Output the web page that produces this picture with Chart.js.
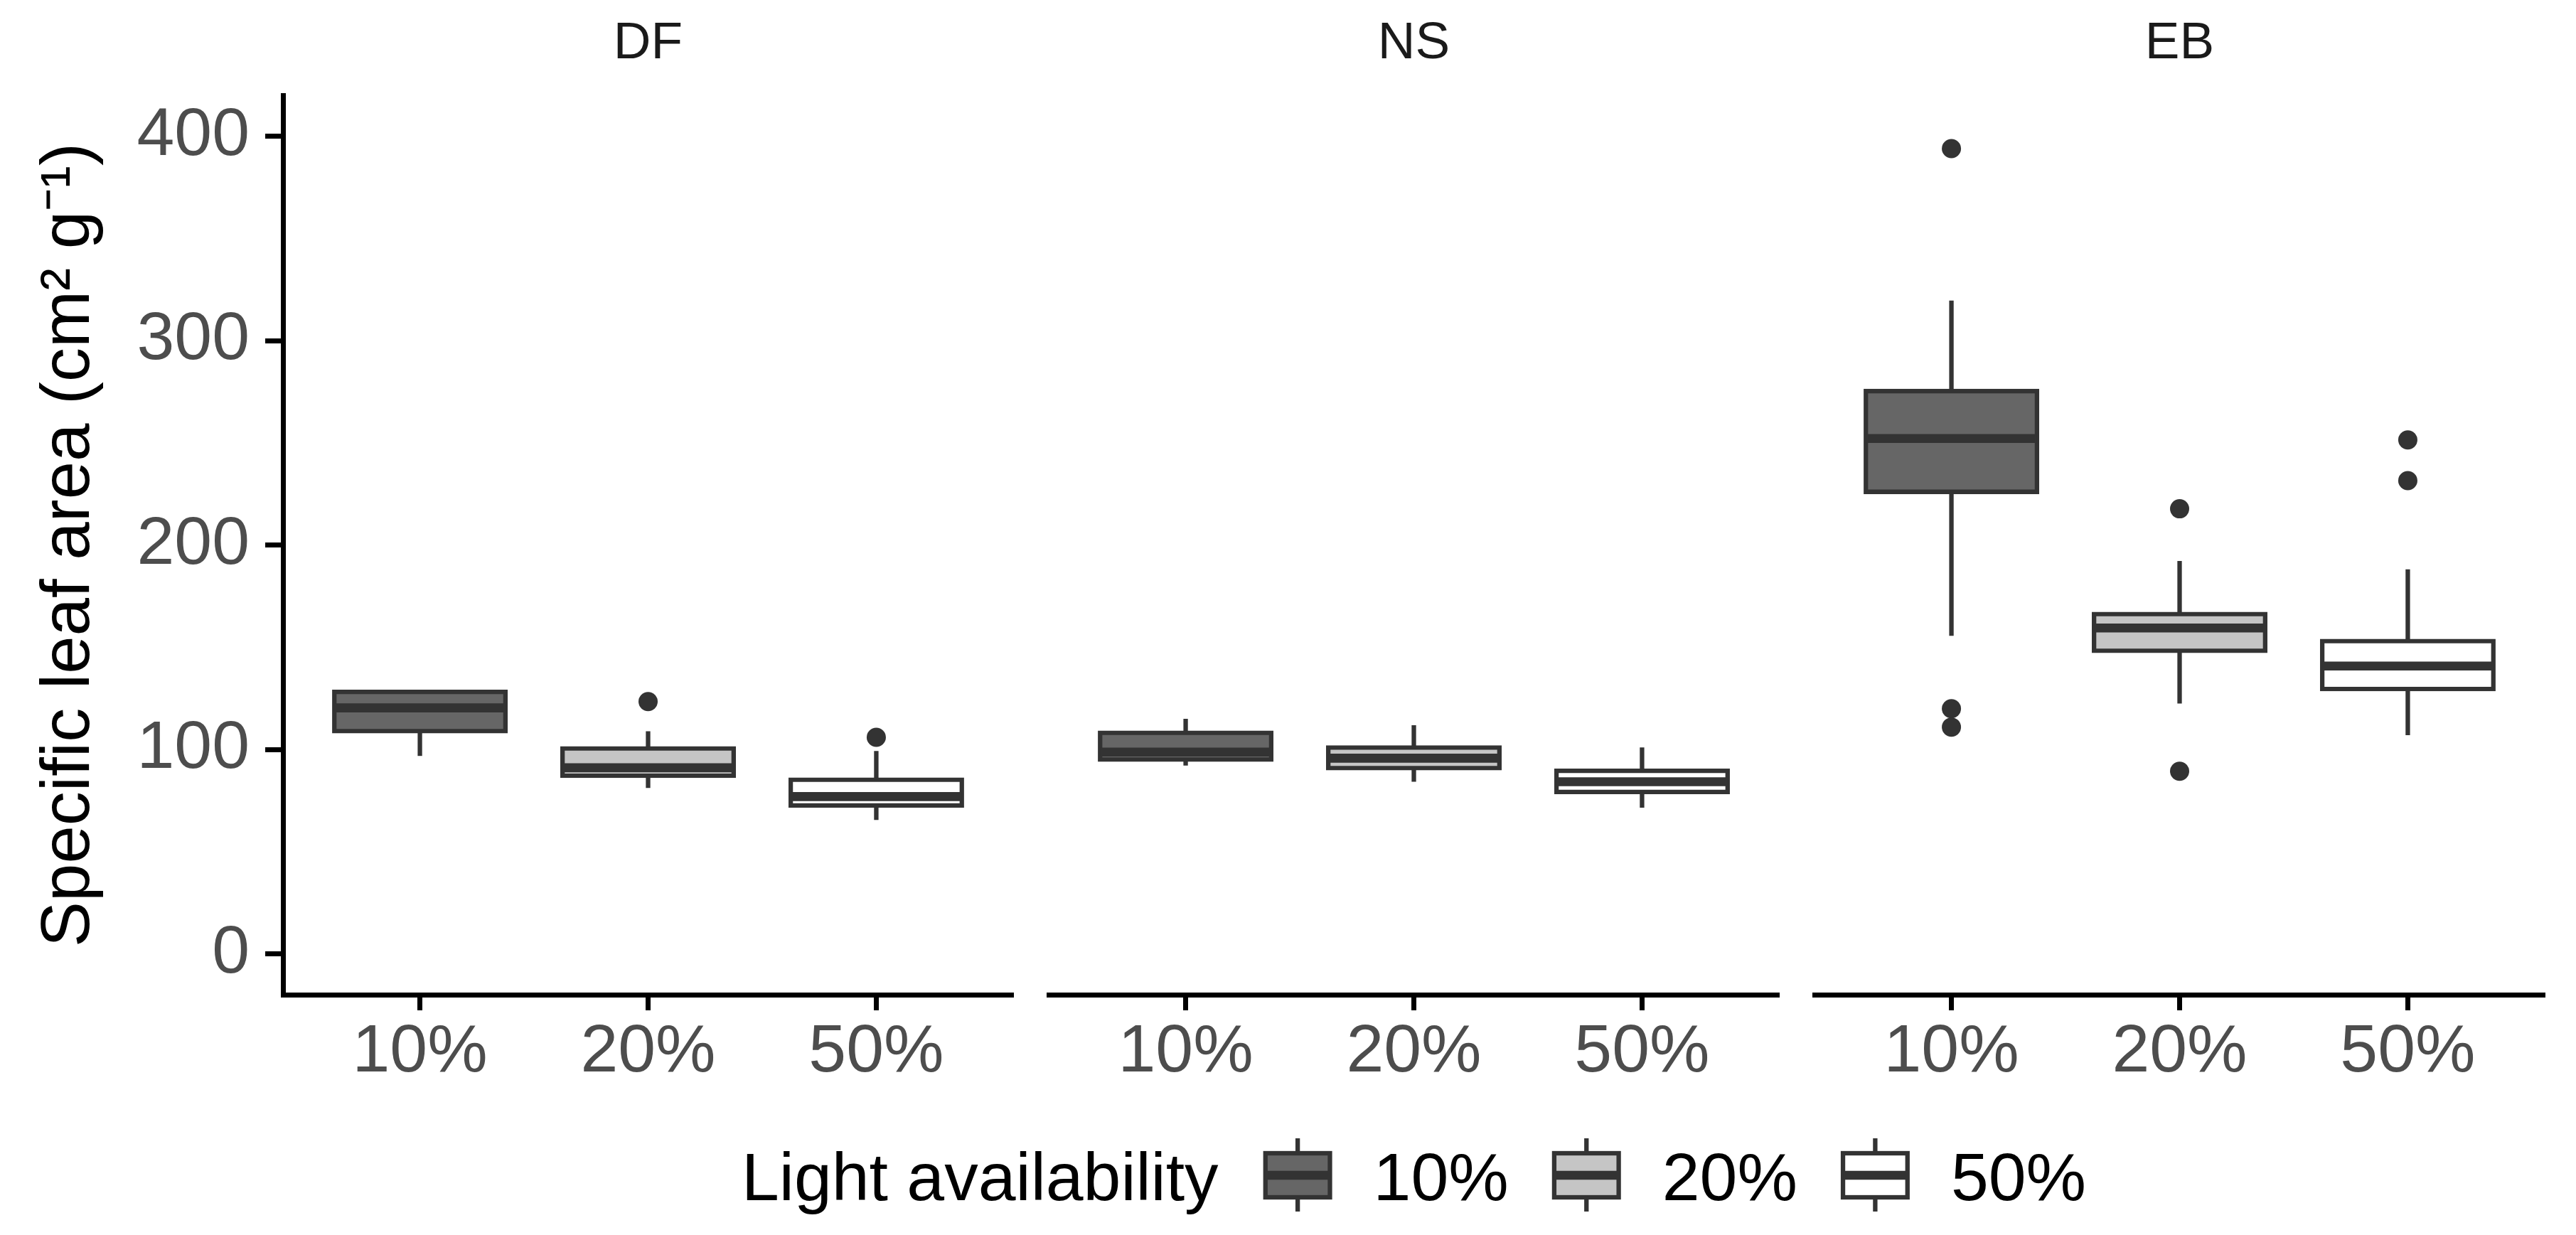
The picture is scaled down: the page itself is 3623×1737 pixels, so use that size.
<!DOCTYPE html>
<html>
<head>
<meta charset="utf-8">
<script src="https://cdn.jsdelivr.net/npm/chart.js@4.4.0/dist/chart.umd.min.js"></script>
<style>
html, body { margin: 0; padding: 0; background: #ffffff; overflow: hidden; }
#wrap { position: relative; width: 3623px; height: 1737px; background: #ffffff; }
#wrap canvas { position: absolute; left: 0; top: 0; }
</style>
</head>
<body>
<div id="wrap">
  <canvas id="c0" width="3623" height="1737"></canvas>
  <canvas id="c1" width="3623" height="1737"></canvas>
  <canvas id="c2" width="3623" height="1737"></canvas>
</div>
<script>
// ---------------- data ----------------
const panels = ['DF', 'NS', 'EB'];
const lightLevels = ['10%', '20%', '50%'];
// order: DF 10/20/50, NS 10/20/50, EB 10/20/50
const whiskerLow  = [96.8, 81.1, 65.5,   92.1, 84.2, 71.5,   155.6, 122.4, 107.0];
const quartile1   = [108.9, 87.1, 72.6,  95.0, 90.8, 79.2,   226.0, 148.2, 129.5];
const medians     = [120.3, 91.0, 76.9,  98.7, 95.7, 84.2,   252.1, 159.4, 140.8];
const quartile3   = [128.1, 100.5, 85.2, 108.1, 100.9, 89.5, 275.3, 166.2, 153.0];
const whiskerHigh = [128.1, 108.9, 99.2, 115.0, 111.8, 101.0, 319.6, 192.2, 188.1];
const outlierBox   = [1, 2, 6, 6, 6, 7, 7, 8, 8];
const outlierValue = [123.4, 105.9, 393.9, 119.9, 110.9, 217.7, 89.3, 251.4, 231.5];
const yTicks = [0, 100, 200, 300, 400];
const yTitle = 'Specific leaf area (cm\u00B2 g\u207B\u00B9)';
const legendTitle = 'Light availability';

// ---------------- styles / layout ----------------
const W = 3623, H = 1737;
const FONT = "'Liberation Sans', Arial, Helvetica, sans-serif";
const fills = ['#666666', '#C5C5C5', '#FFFFFF'];
const LINE = '#333333';
const LW = 6.3;
const panelLeft = [398, 1475, 2552];
const panelWidth = 1027;
const plotBottom = 1399;
const yAxisPadLeft = 20;

const boxExtras = {
  id: 'boxExtras',
  beforeDatasetsDraw(chart) {
    const { ctx } = chart;
    const x = chart.scales.x, y = chart.scales.y;
    const p = chart.options.plugins.boxExtras.panel;
    ctx.save();
    ctx.strokeStyle = LINE;
    ctx.lineWidth = LW;
    ctx.lineCap = 'butt';
    lightLevels.forEach((_, j) => {
      const i = p * 3 + j;
      const px = x.getPixelForValue(j + 1);
      ctx.beginPath();
      ctx.moveTo(px, y.getPixelForValue(quartile3[i]));
      ctx.lineTo(px, y.getPixelForValue(whiskerHigh[i]));
      ctx.moveTo(px, y.getPixelForValue(quartile1[i]));
      ctx.lineTo(px, y.getPixelForValue(whiskerLow[i]));
      ctx.stroke();
    });
    ctx.restore();
  },
  afterDatasetDraw(chart, args) {
    if (args.index !== 0) return;
    const { ctx } = chart;
    const y = chart.scales.y;
    const p = chart.options.plugins.boxExtras.panel;
    const meta = chart.getDatasetMeta(0);
    ctx.save();
    ctx.strokeStyle = LINE;
    ctx.lineWidth = LW * 2;
    ctx.lineCap = 'butt';
    meta.data.forEach((bar, j) => {
      const py = y.getPixelForValue(medians[p * 3 + j]);
      ctx.beginPath();
      ctx.moveTo(bar.x - bar.width / 2, py);
      ctx.lineTo(bar.x + bar.width / 2, py);
      ctx.stroke();
    });
    ctx.restore();
  }
};

const boxLegend = {
  id: 'boxLegend',
  afterDraw(chart) {
    const { ctx } = chart;
    const cx = (panelLeft[0] + panelLeft[2] + panelWidth) / 2;
    const cy = chart.chartArea.bottom + 254;
    ctx.save();
    ctx.font = '95px ' + FONT;
    const titleW = ctx.measureText(legendTitle).width;
    const labelW = lightLevels.map(l => ctx.measureText(l).width);
    const keyW = 97, gapTitle = 63, gapKey = 58, gapItem = 61;
    let total = titleW + gapTitle;
    lightLevels.forEach((_, j) => {
      total += keyW + gapKey + labelW[j] + (j < lightLevels.length - 1 ? gapItem : 0);
    });
    let xx = cx - total / 2;
    ctx.fillStyle = '#000000';
    ctx.textBaseline = 'alphabetic';
    ctx.textAlign = 'left';
    ctx.fillText(legendTitle, xx, cy + 35);
    xx += titleW + gapTitle;
    lightLevels.forEach((l, j) => {
      const bx = xx + LW / 2, bw = keyW - LW;
      const top = cy - 31, bot = cy + 31, mid = bx + bw / 2;
      ctx.strokeStyle = LINE;
      ctx.lineCap = 'butt';
      ctx.lineWidth = LW;
      ctx.beginPath();
      ctx.moveTo(mid, cy - 52); ctx.lineTo(mid, top);
      ctx.moveTo(mid, bot); ctx.lineTo(mid, cy + 51);
      ctx.stroke();
      ctx.fillStyle = fills[j];
      ctx.fillRect(bx, top, bw, bot - top);
      ctx.strokeRect(bx, top, bw, bot - top);
      ctx.lineWidth = LW * 2;
      ctx.beginPath();
      ctx.moveTo(bx, cy); ctx.lineTo(bx + bw, cy);
      ctx.stroke();
      xx += keyW + gapKey;
      ctx.fillStyle = '#000000';
      ctx.fillText(l, xx, cy + 35);
      xx += labelW[j] + gapItem;
    });
    ctx.restore();
  }
};

function makeChart(p) {
  const boxData = lightLevels.map((_, j) => ({ x: j + 1, y: [quartile1[p * 3 + j], quartile3[p * 3 + j]] }));
  const outData = [];
  outlierBox.forEach((b, k) => {
    if (Math.floor(b / 3) === p) outData.push({ x: (b % 3) + 1, y: outlierValue[k] });
  });
  const plugins = [boxExtras];
  if (p === 1) plugins.push(boxLegend);
  return new Chart(document.getElementById('c' + p), {
    type: 'bar',
    data: {
      datasets: [
        {
          type: 'bar', label: 'box', data: boxData,
          backgroundColor: fills, borderColor: LINE, borderWidth: LW,
          borderSkipped: false, inflateAmount: LW / 2,
          barPercentage: 0.75, categoryPercentage: 1, order: 2
        },
        {
          type: 'scatter', label: 'outliers', data: outData,
          pointRadius: 13.5, pointHoverRadius: 13.5,
          backgroundColor: LINE, borderWidth: 0, order: 1
        }
      ]
    },
    plugins: plugins,
    options: {
      responsive: false,
      animation: false,
      devicePixelRatio: 1,
      events: [],
      layout: {
        padding: {
          left: p === 0 ? yAxisPadLeft : panelLeft[p],
          right: W - panelLeft[p] - panelWidth,
          top: 0, bottom: 0
        }
      },
      plugins: {
        legend: { display: false },
        tooltip: { enabled: false },
        title: {
          display: true, fullSize: false, text: panels[p], color: '#1A1A1A',
          font: { family: FONT, size: 73, weight: 'normal' },
          padding: { top: 18, bottom: 28.4 }
        },
        boxExtras: { panel: p }
      },
      scales: {
        x: {
          type: 'linear', min: 0.4, max: 3.6, offset: false,
          afterBuildTicks: s => { s.ticks = lightLevels.map((_, j) => ({ value: j + 1 })); },
          afterFit: s => { s.height = H - plotBottom; },
          ticks: {
            callback: v => lightLevels[Math.round(v) - 1],
            color: '#4D4D4D', font: { family: FONT, size: 95 },
            padding: 3, maxRotation: 0, autoSkip: false
          },
          grid: {
            display: true, drawOnChartArea: false, drawTicks: true,
            tickLength: 22, tickWidth: 7, tickColor: '#000000', offset: false
          },
          border: { display: true, color: '#000000', width: 7 }
        },
        y: {
          type: 'linear', display: p === 0, min: -20, max: 420,
          afterBuildTicks: s => { s.ticks = yTicks.map(v => ({ value: v })); },
          afterFit: s => { if (p === 0) s.width = panelLeft[0] - yAxisPadLeft; },
          ticks: { color: '#4D4D4D', font: { family: FONT, size: 95 }, padding: 22 },
          grid: {
            display: true, drawOnChartArea: false, drawTicks: true,
            tickLength: 25, tickWidth: 7, tickColor: '#000000'
          },
          border: { display: true, color: '#000000', width: 7 },
          title: {
            display: true, text: yTitle, color: '#000000',
            font: { family: FONT, size: 96 }, padding: { top: 21, bottom: 0 }
          }
        }
      }
    }
  });
}

panels.forEach((_, p) => makeChart(p));
</script>
</body>
</html>
